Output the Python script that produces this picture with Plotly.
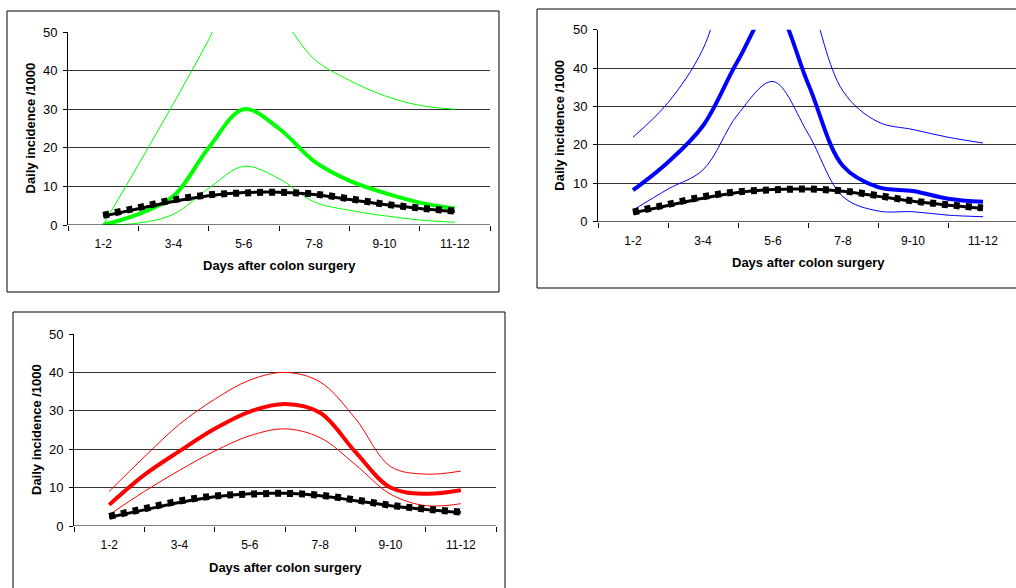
import plotly.graph_objects as go

# ---- data ----
x_pos = [1, 2, 3, 4, 5, 6, 7, 8, 9, 10, 11]
tick_pos = [1, 3, 5, 7, 9, 11]
tick_labels = ["1-2", "3-4", "5-6", "7-8", "9-10", "11-12"]

baseline_fit = [2.3, 4.2, 6.1, 7.6, 8.4, 8.5, 7.9, 6.6, 5.3, 4.3, 3.5]
baseline_obs = [2.5, 4.5, 6.5, 7.8, 8.3, 8.5, 8.0, 6.8, 5.4, 4.4, 3.6]

green_mid = [0.0, 2.8, 7.5, 20.0, 30.0, 25.0, 16.5, 11.5, 8.3, 5.8, 4.3]
green_hi = [0.0, 15.6, 31.5, 48.0, 66.0, 55.0, 43.0, 37.5, 33.5, 31.0, 30.0]
green_lo = [0.0, 0.5, 2.8, 9.5, 15.2, 12.0, 6.0, 3.8, 2.4, 1.3, 0.7]

blue_mid = [8.2, 15.5, 25.0, 42.0, 56.0, 36.0, 14.5, 9.0, 8.0, 6.0, 5.2]
blue_hi = [22.0, 31.0, 45.0, 72.0, 82.0, 60.0, 34.0, 26.0, 24.0, 22.0, 20.5]
blue_lo = [3.0, 8.5, 13.5, 28.0, 36.5, 23.0, 6.5, 2.8, 2.6, 1.7, 1.3]

red_mid = [5.5, 13.3, 19.5, 25.3, 29.8, 31.8, 29.5, 19.3, 10.0, 8.4, 9.3]
red_hi = [9.0, 18.0, 26.5, 33.0, 38.0, 40.0, 37.5, 28.0, 15.5, 13.5, 14.3]
red_lo = [2.9, 9.0, 14.5, 19.5, 23.5, 25.3, 23.0, 16.0, 8.3, 5.3, 5.8]

W, H = 1016, 588
FONT = "Liberation Sans, Arial, sans-serif"

panels = [
    # (colour, mid, hi, lo, plot px box (x0,x1,ytop,ybot), border (x0,x1,ytop,ybot))
    ("#00FF00", green_mid, green_hi, green_lo, (68, 490, 32, 225), (7, 499, 11, 292)),
    ("#0000FF", blue_mid, blue_hi, blue_lo, (598, 1018, 29.7, 221.7), (537, 1030, 9, 288)),
    ("#FF0000", red_mid, red_hi, red_lo, (74, 496, 334, 526), (13, 505, 312, 600)),
]

fig = go.Figure()
shapes = []
annotations = []

for i, (col, mid, hi, lo, box, border) in enumerate(panels):
    n = "" if i == 0 else str(i + 1)
    xa, ya = "x" + n, "y" + n
    x0, x1, yt, yb = box
    unit = (x1 - x0) / 12.0
    xd1 = min(x1 / W, 1.0)
    xr1 = (xd1 * W - x0) / unit
    fig.update_layout(**{
        "xaxis" + n: dict(
            domain=[x0 / W, xd1], range=[0, xr1], anchor=ya, automargin=False,
            tickvals=tick_pos, ticktext=tick_labels, ticks="", showgrid=False,
            zeroline=False, showline=False,
            tickfont=dict(family=FONT, size=12, color="#000"),
            ticklabelstandoff=10,
            minor=dict(tick0=0, dtick=2, ticks="outside", ticklen=5,
                       tickcolor="#000", tickwidth=1, showgrid=False),
            fixedrange=True,
        ),
        "yaxis" + n: dict(
            domain=[1 - yb / H, 1 - yt / H], range=[0, 50], anchor=xa, automargin=False,
            tickvals=[0, 10, 20, 30, 40, 50], ticks="outside", ticklen=4,
            tickcolor="#000", showline=True, linecolor="#000", linewidth=1,
            showgrid=True, gridcolor="#333", gridwidth=1, zeroline=False,
            tickfont=dict(family=FONT, size=13, color="#000"),
            ticklabelstandoff=3,
            fixedrange=True,
        ),
    })
    # x axis line at 0 across the plot
    shapes.append(dict(type="line", xref=xa, yref=ya, x0=0, x1=xr1, y0=0, y1=0,
                       line=dict(color="#000", width=1), layer="above"))
    # border
    bx0, bx1, byt, byb = border
    shapes.append(dict(type="rect", xref="paper", yref="paper",
                       x0=bx0 / W, x1=bx1 / W, y0=1 - byb / H, y1=1 - byt / H,
                       line=dict(color="#000", width=1), layer="below"))
    # colored lines
    for vals, w in ((lo, 1), (hi, 1), (mid, 4)):
        fig.add_trace(go.Scatter(x=x_pos, y=vals, xaxis=xa, yaxis=ya, mode="lines",
                                 line=dict(color=col, width=w, shape="spline"),
                                 showlegend=False, hoverinfo="skip"))
    # baseline
    fig.add_trace(go.Scatter(x=x_pos, y=baseline_fit, xaxis=xa, yaxis=ya, mode="lines",
                             line=dict(color="#000", width=3, shape="spline"),
                             showlegend=False, hoverinfo="skip"))
    fig.add_trace(go.Scatter(x=x_pos, y=baseline_obs, xaxis=xa, yaxis=ya, mode="lines",
                             line=dict(color="#000", width=7, shape="spline", dash="6px,6px"),
                             showlegend=False, hoverinfo="skip"))
    # axis titles
    annotations.append(dict(text="<b>Days after colon surgery</b>", xref="paper", yref="paper",
                            x=((x0 + x1) / 2) / W, y=1 - (yb + 41) / H, showarrow=False,
                            xanchor="center", yanchor="middle",
                            font=dict(family=FONT, size=13, color="#000")))
    annotations.append(dict(text="<b>Daily incidence /1000</b>", xref="paper", yref="paper",
                            x=(x0 - 38) / W, y=1 - ((yt + yb) / 2) / H, showarrow=False,
                            textangle=-90, xanchor="center", yanchor="middle",
                            font=dict(family=FONT, size=13, color="#000")))

fig.update_layout(
    width=W, height=H, margin=dict(l=0, r=0, t=0, b=0),
    paper_bgcolor="white", plot_bgcolor="white",
    shapes=shapes, annotations=annotations,
)

fig.write_html("out.html", config={"displayModeBar": False},
               post_script="document.body.style.margin='0';document.body.style.overflow='hidden';")
